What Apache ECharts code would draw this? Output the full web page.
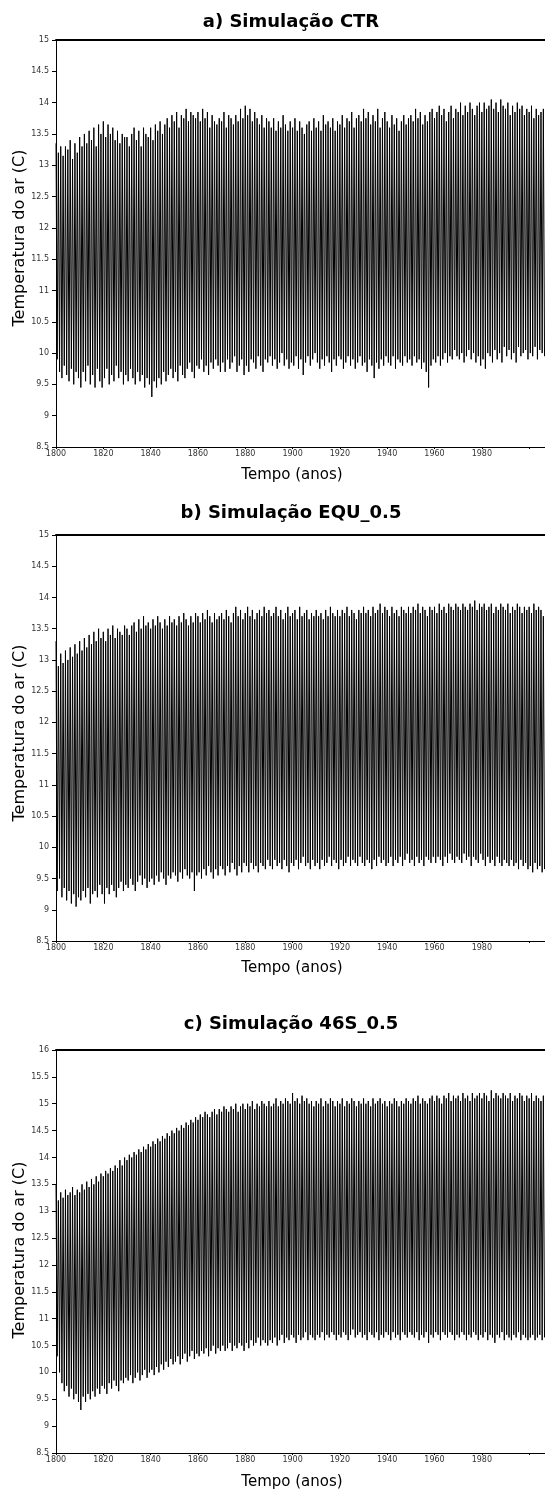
<!DOCTYPE html>
<html>
<head>
<meta charset="utf-8">
<script src="https://cdn.jsdelivr.net/npm/echarts@6/dist/echarts.min.js"></script>
<style>
html,body{margin:0;padding:0;background:#fff;}
#c{width:545px;height:1495px;}
</style>
</head>
<body>
<div id="c"></div>
<script>
// Years 1800..2006, one seasonal cycle per year: yearly maximum then yearly minimum
var startYear = 1800;
var titles = ["a) Simulação CTR", "b) Simulação EQU_0.5", "c) Simulação 46S_0.5"];
var xTicks = [1800, 1820, 1840, 1860, 1880, 1900, 1920, 1940, 1960, 1980];

var ctrMax = [
13.35,13.2,13.3,13.15,13.3,13.25,13.4,13.1,13.35,13.2,
13.45,13.3,13.5,13.35,13.55,13.4,13.6,13.3,13.65,13.5,
13.7,13.45,13.65,13.5,13.6,13.4,13.55,13.35,13.5,13.45,
13.45,13.3,13.5,13.6,13.4,13.55,13.3,13.6,13.5,13.45,
13.6,13.4,13.65,13.55,13.7,13.5,13.65,13.75,13.6,13.8,
13.7,13.85,13.6,13.8,13.75,13.9,13.7,13.85,13.8,13.75,
13.85,13.7,13.9,13.75,13.85,13.6,13.8,13.7,13.65,13.75,
13.7,13.85,13.6,13.8,13.75,13.65,13.8,13.7,13.9,13.75,
13.95,13.8,13.9,13.7,13.85,13.75,13.65,13.8,13.6,13.75,
13.7,13.6,13.75,13.55,13.7,13.6,13.8,13.65,13.55,13.7,
13.6,13.75,13.55,13.7,13.6,13.5,13.65,13.7,13.55,13.75,
13.6,13.7,13.55,13.8,13.65,13.7,13.6,13.75,13.55,13.7,
13.65,13.8,13.6,13.75,13.7,13.85,13.6,13.75,13.8,13.7,
13.9,13.75,13.85,13.65,13.8,13.7,13.9,13.6,13.75,13.85,
13.7,13.6,13.8,13.65,13.75,13.55,13.7,13.8,13.65,13.75,
13.8,13.7,13.9,13.75,13.85,13.65,13.8,13.7,13.85,13.9,
13.75,13.85,13.95,13.8,13.9,13.7,13.85,13.95,13.75,13.9,
13.85,14.0,13.8,13.95,13.85,14.0,13.9,13.8,13.95,14.0,
13.85,14.0,13.9,13.95,14.05,13.9,14.0,13.85,14.05,13.95,
13.9,14.0,13.8,13.95,13.85,14.0,13.9,13.95,13.8,13.9,
13.85,13.95,13.75,13.9,13.8,13.85,13.9];
var ctrMin = [
9.9,9.7,9.6,9.8,9.65,9.55,9.75,9.5,9.7,9.6,
9.45,9.7,9.55,9.8,9.5,9.65,9.45,9.75,9.55,9.45,
9.6,9.75,9.5,9.65,9.55,9.8,9.6,9.7,9.5,9.65,
9.55,9.75,9.6,9.5,9.7,9.55,9.65,9.45,9.6,9.5,
9.3,9.55,9.45,9.6,9.5,9.7,9.55,9.65,9.75,9.6,
9.7,9.55,9.8,9.65,9.6,9.75,9.85,9.7,9.6,9.8,
9.75,9.9,9.7,9.8,9.65,9.85,9.75,9.9,9.8,9.7,
9.85,9.7,9.9,9.75,9.85,9.95,9.7,9.8,9.9,9.65,
9.8,9.7,9.9,9.85,9.75,9.95,9.8,9.7,9.9,9.85,
9.95,9.8,9.9,9.75,9.85,10.0,9.8,9.9,9.75,9.85,
9.8,9.95,9.75,9.9,9.65,9.85,9.95,9.8,9.9,10.0,
9.85,9.75,9.9,9.8,9.95,9.85,9.7,9.9,9.8,9.95,
9.9,9.75,9.85,9.95,9.8,9.9,9.75,9.85,9.95,9.8,
9.85,9.7,9.9,9.8,9.6,9.85,9.75,9.9,9.8,9.95,
9.85,9.8,9.95,9.75,9.9,9.85,9.8,9.95,9.85,9.9,
9.8,9.95,9.85,9.9,9.75,9.85,9.7,9.45,9.8,9.9,
9.85,9.95,9.8,9.9,10.0,9.85,9.95,9.9,10.05,9.95,
9.9,10.0,9.85,9.95,10.05,9.9,10.0,9.85,9.95,9.8,
9.9,9.75,10.0,9.95,9.85,10.05,9.9,10.0,9.85,10.1,
9.95,10.05,9.9,10.0,9.85,10.1,9.95,10.0,10.05,9.9,
10.0,9.95,10.1,9.9,10.05,10.0,9.95];

var equMax = [
13.3,12.9,13.1,12.95,13.15,13.0,13.2,13.05,13.25,13.1,
13.3,13.15,13.35,13.2,13.4,13.25,13.45,13.3,13.5,13.35,
13.45,13.3,13.5,13.4,13.55,13.35,13.5,13.45,13.4,13.55,
13.5,13.4,13.55,13.6,13.45,13.65,13.5,13.7,13.55,13.6,
13.5,13.65,13.55,13.7,13.6,13.5,13.65,13.55,13.7,13.6,
13.65,13.55,13.7,13.6,13.75,13.65,13.55,13.7,13.6,13.75,
13.7,13.6,13.75,13.65,13.8,13.7,13.6,13.75,13.65,13.7,
13.75,13.65,13.8,13.7,13.6,13.75,13.85,13.7,13.8,13.65,
13.75,13.85,13.7,13.8,13.65,13.75,13.8,13.7,13.85,13.75,
13.8,13.7,13.75,13.85,13.7,13.8,13.65,13.75,13.85,13.7,
13.75,13.8,13.65,13.85,13.7,13.75,13.8,13.65,13.75,13.7,
13.8,13.7,13.75,13.65,13.8,13.7,13.85,13.75,13.7,13.8,
13.7,13.8,13.75,13.85,13.7,13.8,13.75,13.65,13.8,13.75,
13.85,13.75,13.8,13.7,13.85,13.75,13.8,13.9,13.75,13.85,
13.8,13.7,13.85,13.75,13.8,13.7,13.85,13.8,13.75,13.85,
13.75,13.85,13.8,13.9,13.75,13.85,13.8,13.7,13.85,13.8,
13.85,13.75,13.9,13.8,13.85,13.75,13.9,13.85,13.8,13.9,
13.85,13.8,13.9,13.85,13.8,13.9,13.85,13.95,13.8,13.9,
13.85,13.9,13.8,13.85,13.9,13.75,13.85,13.8,13.9,13.85,
13.8,13.9,13.75,13.85,13.8,13.9,13.85,13.75,13.85,13.8,
13.85,13.75,13.9,13.8,13.85,13.8,13.7];
var equMin = [
9.3,9.5,9.2,9.35,9.15,9.3,9.1,9.25,9.05,9.2,
9.15,9.3,9.2,9.35,9.1,9.25,9.3,9.2,9.4,9.25,
9.1,9.35,9.25,9.4,9.3,9.2,9.35,9.45,9.3,9.4,
9.35,9.5,9.4,9.3,9.45,9.55,9.4,9.5,9.35,9.45,
9.5,9.4,9.55,9.45,9.6,9.5,9.4,9.55,9.5,9.6,
9.55,9.45,9.6,9.5,9.65,9.55,9.5,9.6,9.3,9.55,
9.6,9.5,9.65,9.55,9.7,9.6,9.5,9.65,9.55,9.7,
9.65,9.55,9.7,9.6,9.75,9.65,9.55,9.7,9.6,9.75,
9.7,9.6,9.75,9.65,9.7,9.6,9.75,9.7,9.65,9.8,
9.7,9.65,9.8,9.7,9.75,9.65,9.8,9.7,9.6,9.75,
9.7,9.8,9.65,9.75,9.85,9.7,9.75,9.65,9.8,9.7,
9.75,9.65,9.8,9.7,9.75,9.85,9.7,9.8,9.75,9.65,
9.8,9.7,9.75,9.85,9.7,9.8,9.75,9.7,9.85,9.75,
9.7,9.8,9.75,9.65,9.8,9.7,9.85,9.75,9.8,9.7,
9.75,9.85,9.7,9.8,9.75,9.85,9.7,9.8,9.9,9.75,
9.8,9.7,9.85,9.75,9.8,9.7,9.85,9.8,9.75,9.85,
9.75,9.85,9.8,9.7,9.85,9.75,9.9,9.8,9.75,9.85,
9.8,9.75,9.9,9.8,9.85,9.7,9.85,9.8,9.75,9.9,
9.8,9.7,9.85,9.75,9.8,9.7,9.85,9.75,9.7,9.8,
9.75,9.7,9.8,9.7,9.75,9.65,9.8,9.7,9.75,9.65,
9.7,9.6,9.75,9.65,9.7,9.6,9.65];

var s46Max = [
13.5,13.2,13.35,13.25,13.4,13.3,13.35,13.45,13.3,13.4,
13.35,13.5,13.4,13.55,13.45,13.6,13.5,13.65,13.55,13.7,
13.65,13.75,13.7,13.8,13.75,13.85,13.8,13.95,13.85,14.0,
13.95,14.05,14.0,14.1,14.05,14.15,14.1,14.2,14.15,14.25,
14.2,14.3,14.25,14.35,14.3,14.4,14.35,14.45,14.4,14.5,
14.45,14.55,14.5,14.6,14.55,14.65,14.6,14.7,14.65,14.75,
14.7,14.8,14.75,14.85,14.8,14.75,14.85,14.9,14.8,14.9,
14.85,14.95,14.9,14.85,14.95,14.9,15.0,14.85,14.95,15.0,
14.9,15.0,14.95,15.05,14.9,15.0,14.95,15.05,15.0,14.95,
15.05,14.95,15.0,15.1,14.95,15.05,15.0,15.1,15.05,15.0,
15.2,15.05,15.1,15.0,15.15,15.05,15.1,15.0,15.05,14.95,
15.05,15.0,15.1,14.95,15.05,15.0,15.1,15.05,14.95,15.05,
15.0,15.1,14.95,15.05,15.0,15.1,15.05,14.95,15.05,15.0,
15.1,15.0,15.05,14.95,15.1,15.0,15.05,15.1,15.0,15.05,
14.95,15.05,15.0,15.1,15.05,14.95,15.05,15.0,15.1,15.05,
15.0,15.1,15.05,15.15,15.0,15.1,15.05,15.0,15.1,15.15,
15.05,15.15,15.1,15.0,15.15,15.1,15.2,15.05,15.15,15.1,
15.15,15.05,15.2,15.1,15.15,15.05,15.2,15.1,15.15,15.2,
15.1,15.2,15.15,15.05,15.25,15.1,15.2,15.15,15.1,15.2,
15.15,15.1,15.2,15.05,15.15,15.1,15.2,15.15,15.05,15.15,
15.1,15.2,15.05,15.15,15.1,15.05,15.15];
var s46Min = [
10.3,10.0,9.8,9.65,9.75,9.55,9.7,9.5,9.6,9.45,
9.3,9.55,9.45,9.6,9.5,9.65,9.55,9.7,9.6,9.75,
9.7,9.6,9.8,9.7,9.85,9.75,9.65,9.85,9.8,9.9,
9.85,9.95,9.8,9.9,10.0,9.85,9.95,10.05,9.9,10.0,
10.05,9.95,10.1,10.0,10.15,10.05,10.2,10.1,10.25,10.15,
10.2,10.3,10.15,10.25,10.35,10.2,10.3,10.4,10.25,10.35,
10.3,10.4,10.35,10.45,10.3,10.4,10.5,10.35,10.45,10.4,
10.5,10.4,10.45,10.55,10.4,10.5,10.45,10.55,10.5,10.4,
10.55,10.45,10.6,10.5,10.55,10.65,10.5,10.6,10.55,10.5,
10.6,10.55,10.65,10.5,10.6,10.7,10.55,10.65,10.6,10.7,
10.65,10.55,10.7,10.6,10.65,10.75,10.6,10.7,10.65,10.6,
10.7,10.65,10.75,10.6,10.7,10.65,10.75,10.7,10.6,10.7,
10.65,10.75,10.7,10.6,10.7,10.8,10.65,10.7,10.75,10.65,
10.7,10.6,10.75,10.7,10.65,10.75,10.6,10.7,10.65,10.75,
10.7,10.6,10.75,10.65,10.7,10.6,10.75,10.7,10.65,10.75,
10.7,10.65,10.75,10.6,10.7,10.65,10.75,10.55,10.7,10.65,
10.75,10.7,10.6,10.75,10.7,10.65,10.75,10.7,10.6,10.7,
10.65,10.75,10.7,10.6,10.7,10.65,10.75,10.7,10.6,10.7,
10.65,10.75,10.6,10.7,10.65,10.55,10.7,10.65,10.75,10.6,
10.7,10.65,10.6,10.7,10.65,10.75,10.6,10.7,10.65,10.6,
10.65,10.7,10.6,10.65,10.7,10.6,10.65];

var yMins = [8.5, 8.5, 8.5];
var yMaxs = [15, 15, 16];

function cycle(maxArr, minArr) {
  var out = [];
  for (var i = 0; i < maxArr.length; i++) {
    out.push([startYear + i, maxArr[i]]);
    out.push([startYear + i + 0.5, minArr[i]]);
  }
  return out;
}
var seriesData = [cycle(ctrMax, ctrMin), cycle(equMax, equMin), cycle(s46Max, s46Min)];

var grids = [
  {left: 56, right: 0, top: 40, height: 407},
  {left: 56, right: 0, top: 535, height: 406},
  {left: 56, right: 0, top: 1050, height: 403}
];
var titleY = [22, 513, 1024];
var xNameY = [475, 968, 1482];
var yNameY = [238, 733, 1250];

var tickFont = {fontFamily: 'DejaVu Sans', fontSize: 8, color: '#333'};
var xAxes = [], yAxes = [], series = [], graphics = [];
for (var k = 0; k < 3; k++) {
  xAxes.push({
    gridIndex: k, type: 'value', min: 1800, max: 2006.7, interval: 20,
    axisLine: {show: true, lineStyle: {color: '#000', width: 1}},
    axisTick: {show: true, length: 2, lineStyle: {color: '#000'}},
    axisLabel: Object.assign({margin: 3, showMaxLabel: false,
      formatter: function (v) { return xTicks.indexOf(v) >= 0 ? String(v) : ''; }}, tickFont),
    splitLine: {show: false}
  });
  xAxes.push({
    gridIndex: k, type: 'value', position: 'top', min: 1800, max: 2006.7,
    axisLine: {show: true, onZero: false, lineStyle: {color: '#000', width: 2}},
    axisTick: {show: false}, axisLabel: {show: false}, splitLine: {show: false}
  });
  yAxes.push({
    gridIndex: k, type: 'value', min: yMins[k], max: yMaxs[k], interval: 0.5,
    axisLine: {show: true, onZero: false, lineStyle: {color: '#000', width: 1}},
    axisTick: {show: true, length: 4, lineStyle: {color: '#000'}},
    axisLabel: Object.assign({margin: 7}, tickFont),
    splitLine: {show: false}
  });
  series.push({
    type: 'line', xAxisIndex: 2 * k, yAxisIndex: k, data: seriesData[k],
    showSymbol: false, symbol: 'none', silent: true,
    lineStyle: {color: '#000', width: 1}
  });
  graphics.push({
    type: 'text', x: 291, y: titleY[k],
    style: {text: titles[k], textAlign: 'center', textVerticalAlign: 'middle', font: 'bold 18px "DejaVu Sans", sans-serif', fill: '#000'}
  });
  graphics.push({
    type: 'text', x: 292, y: xNameY[k],
    style: {text: 'Tempo (anos)', textAlign: 'center', textVerticalAlign: 'middle', font: '15px "DejaVu Sans", sans-serif', fill: '#000'}
  });
  graphics.push({
    type: 'text', x: 20, y: yNameY[k], rotation: Math.PI / 2,
    style: {text: 'Temperatura do ar (C)', textAlign: 'center', textVerticalAlign: 'middle', font: '16px "DejaVu Sans", sans-serif', fill: '#000'}
  });
}

var chart = echarts.init(document.getElementById('c'), null, {renderer: 'canvas'});
chart.setOption({
  animation: false,
  backgroundColor: '#fff',
  grid: grids,
  xAxis: xAxes,
  yAxis: yAxes,
  series: series,
  graphic: graphics
});
</script>
</body>
</html>
